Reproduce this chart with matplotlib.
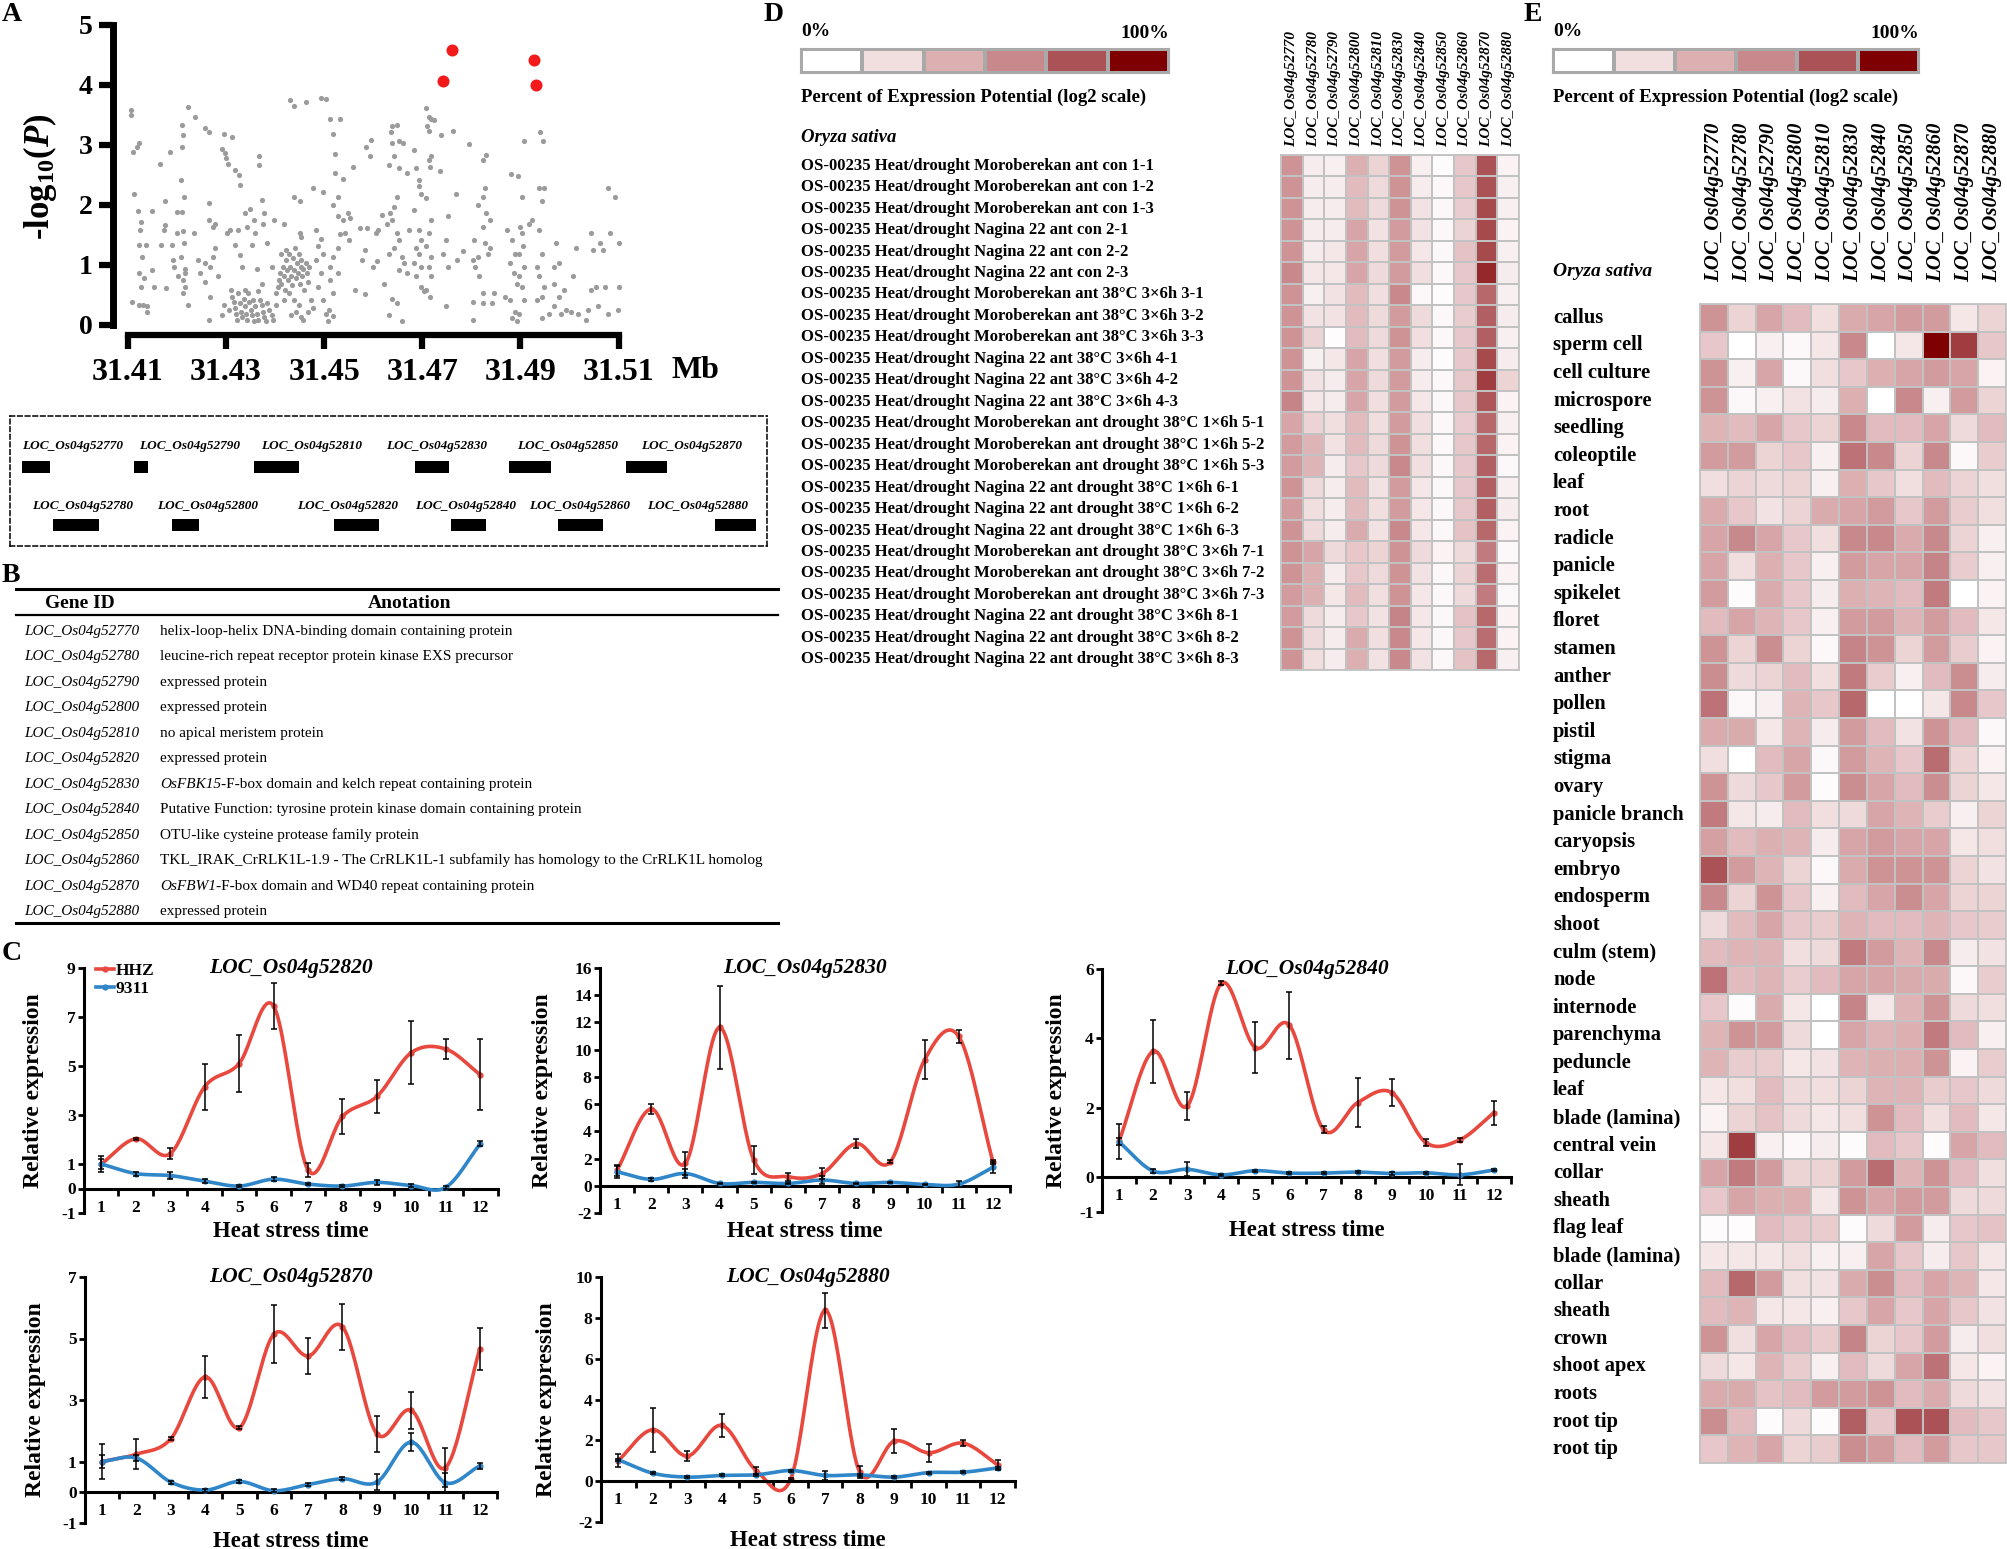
import numpy as np
import matplotlib
matplotlib.use('Agg')
import matplotlib.pyplot as plt
from matplotlib.colors import LinearSegmentedColormap, ListedColormap
from matplotlib.patches import ConnectionPatch
from matplotlib.lines import Line2D
from matplotlib import transforms

plt.rcParams['font.family'] = ['Liberation Serif', 'DejaVu Serif']
plt.rcParams['font.weight'] = 'bold'
plt.rcParams['axes.labelweight'] = 'bold'
plt.rcParams['axes.unicode_minus'] = False
plt.rcParams['mathtext.fontset'] = 'custom'
plt.rcParams['mathtext.rm'] = 'Liberation Serif:bold'
plt.rcParams['mathtext.it'] = 'Liberation Serif:italic:bold'
plt.rcParams['mathtext.bf'] = 'Liberation Serif:bold'

# ---------------- data ----------------
# panel A: GWAS points (Mb, -log10 P)
snp_pos = [
    31.4106, 31.4106, 31.4123, 31.4118, 31.4110, 31.4113, 31.4121, 31.4150, 31.4128, 31.4125,
    31.4123, 31.4138, 31.4130, 31.4150, 31.4123, 31.4133, 31.4128, 31.4154, 31.4108, 31.4123,
    31.4131, 31.4140, 31.4140, 31.4165, 31.4176, 31.4175, 31.4173, 31.4168, 31.4178, 31.4186,
    31.4190, 31.4193, 31.4195, 31.4200, 31.4200, 31.4203, 31.4208, 31.4210, 31.4213, 31.4211,
    31.4215, 31.4210, 31.4213, 31.4215, 31.4208, 31.4216, 31.4216, 31.4213, 31.4216, 31.4213,
    31.4223, 31.4223, 31.4238, 31.4236, 31.4243, 31.4248, 31.4258, 31.4266, 31.4258, 31.4258,
    31.4266, 31.4266, 31.4273, 31.4278, 31.4273, 31.4268, 31.4278, 31.4268, 31.4266, 31.4283,
    31.4296, 31.4293, 31.4298, 31.4301, 31.4304, 31.4296, 31.4293,
    31.4313, 31.4318, 31.4326, 31.4328, 31.4303, 31.4308, 31.4318, 31.4324, 31.4328, 31.4333,
    31.4338, 31.4343, 31.4350, 31.4353, 31.4358, 31.4360, 31.4368, 31.4368, 31.4373, 31.4375,
    31.4378, 31.4363, 31.4373, 31.4366, 31.4398, 31.4383, 31.4393,
    31.4310, 31.4313, 31.4316, 31.4318, 31.4321, 31.4325, 31.4328, 31.4330, 31.4333, 31.4336,
    31.4338, 31.4341, 31.4343, 31.4346, 31.4348, 31.4351, 31.4354, 31.4356, 31.4360, 31.4363,
    31.4366, 31.4370, 31.4373, 31.4376, 31.4378, 31.4381, 31.4384, 31.4388, 31.4393, 31.4396,
    31.4403, 31.4306, 31.4323, 31.4358, 31.4338,
    31.4403, 31.4406, 31.4408, 31.4410, 31.4413, 31.4416, 31.4418, 31.4420, 31.4422, 31.4424,
    31.4426, 31.4428, 31.4430, 31.4432, 31.4434, 31.4436, 31.4438, 31.4440, 31.4442, 31.4444,
    31.4446, 31.4448, 31.4450, 31.4452, 31.4454, 31.4456, 31.4458, 31.4460, 31.4463, 31.4466,
    31.4468, 31.4470, 31.4473, 31.4428, 31.4438, 31.4448, 31.4443, 31.4453, 31.4458, 31.4433,
    31.4468, 31.4478, 31.4418, 31.4413, 31.4423,
    31.4430, 31.4438, 31.4463, 31.4438, 31.4450, 31.4478, 31.4498, 31.4418, 31.4450, 31.4453,
    31.4483, 31.4493, 31.4488, 31.4498, 31.4483, 31.4493, 31.4488, 31.4498, 31.4503, 31.4508,
    31.4493, 31.4503, 31.4513, 31.4533, 31.4518, 31.4523, 31.4523, 31.4538, 31.4528, 31.4518,
    31.4528, 31.4538, 31.4548, 31.4553, 31.4543, 31.4533, 31.4528, 31.4518, 31.4513, 31.4528,
    31.4513, 31.4518, 31.4510, 31.4518, 31.4558, 31.4550, 31.4563, 31.4573, 31.4578, 31.4583,
    31.4588, 31.4586, 31.4593, 31.4596, 31.4583, 31.4600,
    31.4606, 31.4610, 31.4608, 31.4623, 31.4618, 31.4628, 31.4634, 31.4636, 31.4638, 31.4648,
    31.4653, 31.4638, 31.4633, 31.4643, 31.4653, 31.4660, 31.4648, 31.4643, 31.4638, 31.4648,
    31.4653, 31.4643, 31.4633, 31.4658, 31.4663, 31.4653, 31.4668, 31.4638, 31.4648, 31.4658,
    31.4633, 31.4668, 31.4673, 31.4683, 31.4688, 31.4693, 31.4693, 31.4698, 31.4683, 31.4693,
    31.4698, 31.4688, 31.4693, 31.4683, 31.4698, 31.4688, 31.4698, 31.4703,
    31.4708, 31.4713, 31.4718, 31.4723, 31.4710, 31.4714, 31.4718, 31.4713, 31.4716, 31.4708,
    31.4718, 31.4713, 31.4708, 31.4718, 31.4713, 31.4718, 31.4708, 31.4716, 31.4736, 31.4738,
    31.4748, 31.4743, 31.4748, 31.4753, 31.4753, 31.4763, 31.4768, 31.4770, 31.4783, 31.4796,
    31.4803, 31.4803, 31.4813, 31.4806, 31.4813, 31.4808, 31.4816, 31.4803, 31.4823, 31.4830,
    31.4828, 31.4823, 31.4823, 31.4830, 31.4838, 31.4828, 31.4833, 31.4838, 31.4823, 31.4823,
    31.4846, 31.4843, 31.4868, 31.4873, 31.4880, 31.4896, 31.4883, 31.4888, 31.4878, 31.4886,
    31.4893, 31.4878, 31.4888, 31.4883, 31.4893,
    31.4903, 31.4908, 31.4900, 31.4903, 31.4898, 31.4906, 31.4908, 31.4898, 31.4903, 31.4908,
    31.4898, 31.4923, 31.4918, 31.4933, 31.4940, 31.4946, 31.4938, 31.4948, 31.4943, 31.4938,
    31.4943, 31.4933, 31.4938, 31.4948, 31.4943, 31.4943, 31.4958, 31.4968, 31.4973, 31.4968,
    31.4978, 31.4968, 31.4978, 31.4983, 31.4988, 31.4993,
    31.5008, 31.5013, 31.5003, 31.5018, 31.5033, 31.5038, 31.5043, 31.5048, 31.5043, 31.5053,
    31.5058, 31.5063, 31.5068, 31.5073, 31.5078, 31.5083, 31.5078, 31.5093, 31.5100, 31.5100,
    31.5098,
]
snp_logp = [
    3.58, 3.50, 3.04, 2.97, 2.89, 2.19, 1.90, 1.90, 1.72, 1.58,
    1.33, 1.33, 1.14, 0.92, 0.86, 0.78, 0.63, 0.64, 0.39, 0.33,
    0.33, 0.32, 0.22, 2.68, 2.06, 1.67, 1.58, 1.33, 0.61, 2.89,
    1.33, 1.08, 0.97, 1.89, 1.53, 0.81, 2.42, 3.33, 3.17, 2.97,
    2.13, 1.89, 1.56, 1.36, 1.14, 0.94, 0.86, 0.75, 0.64, 0.53,
    0.33, 3.63, 3.47, 1.53, 1.08, 0.86, 3.28, 3.21, 1.03, 0.72,
    2.03, 1.75, 1.64, 1.68, 1.14, 0.97, 1.28, 0.47, 0.08, 0.81,
    3.19, 2.94, 2.86, 2.79, 2.69, 0.33, 0.17,
    3.14, 2.58, 2.50, 2.33, 1.53, 1.58, 1.33, 1.58, 1.17, 0.97,
    1.86, 1.64, 1.94, 1.33, 1.75, 1.53, 2.81, 2.67, 2.08, 1.69,
    1.86, 0.94, 0.69, 0.56, 1.75, 1.36, 0.97,
    0.58, 0.47, 0.39, 0.28, 0.19, 0.53, 0.36, 0.22, 0.14, 0.44,
    0.31, 0.19, 0.08, 0.53, 0.39, 0.25, 0.17, 0.42, 0.31, 0.19,
    0.08, 0.42, 0.33, 0.22, 0.14, 0.06, 0.36, 0.25, 0.17, 0.08,
    0.33, 0.25, 0.08, 0.06, 0.58,
    0.53, 0.64, 0.75, 0.86, 0.69, 0.97, 0.81, 0.58, 1.08, 0.92,
    0.75, 1.19, 0.97, 0.81, 0.67, 1.11, 0.92, 1.28, 0.78, 1.03,
    0.86, 1.19, 0.69, 0.97, 1.08, 0.81, 0.94, 0.58, 1.03, 0.86,
    0.72, 0.97, 0.42, 0.53, 0.42, 0.33, 0.22, 0.14, 0.08, 0.17,
    0.22, 0.28, 0.42, 1.19, 1.25,
    3.75, 3.65, 3.71, 2.14, 2.06, 2.28, 2.22, 1.69, 1.53, 1.46,
    1.58, 1.44, 1.31, 1.19, 1.08, 0.86, 0.64, 0.42, 0.19, 0.06,
    3.78, 3.76, 3.44, 3.44, 3.19, 2.85, 2.53, 2.44, 2.14, 2.00,
    1.81, 1.75, 1.86, 1.78, 1.53, 1.52, 1.28, 1.14, 0.97, 0.86,
    0.75, 0.53, 0.25, 0.15, 2.64, 1.42, 0.58, 1.61, 1.08, 1.25,
    1.61, 2.97, 2.82, 3.08, 0.52, 0.97,
    1.53, 1.58, 1.06, 0.69, 1.83, 1.68, 1.86, 3.22, 3.31, 3.33,
    3.06, 3.03, 2.67, 2.81, 2.61, 3.03, 2.14, 1.97, 1.75, 1.53,
    1.42, 1.28, 1.19, 1.14, 1.03, 0.92, 0.86, 0.44, 0.36, 0.06,
    0.17, 2.53, 1.58, 2.92, 2.61, 2.42, 2.31, 2.18, 1.92, 1.58,
    1.42, 1.28, 1.18, 1.03, 0.97, 0.81, 0.64, 0.56,
    3.61, 3.47, 3.44, 3.42, 3.31, 3.24, 2.81, 2.75, 2.64, 2.11,
    1.75, 1.53, 1.31, 1.14, 0.97, 0.81, 0.58, 0.47, 2.56, 3.17,
    1.42, 1.19, 0.31, 1.82, 0.97, 3.23, 2.18, 1.08, 1.24, 3.02,
    0.08, 0.39, 2.00, 1.42, 1.14, 0.97, 0.81, 1.08, 2.75, 2.83,
    2.28, 2.13, 1.64, 1.86, 1.75, 1.36, 1.19, 1.28, 0.53, 0.36,
    0.53, 0.36, 0.47, 1.59, 2.52, 2.48, 1.42, 1.19, 1.03, 0.86,
    0.69, 0.42, 0.22, 0.11, 0.06,
    2.13, 3.06, 1.63, 1.53, 1.19, 1.31, 0.97, 0.81, 0.64, 0.42,
    0.19, 1.75, 1.68, 0.42, 3.22, 3.06, 2.29, 2.28, 2.06, 1.58,
    1.19, 0.97, 0.81, 0.64, 0.47, 0.11, 0.19, 0.31, 1.37, 0.97,
    1.03, 0.69, 0.47, 0.19, 0.58, 0.25,
    0.81, 1.28, 0.22, 0.19, 0.08, 0.25, 1.53, 1.25, 0.58, 0.64,
    0.31, 1.36, 1.25, 0.64, 2.28, 1.53, 0.19, 2.14, 1.36, 0.64,
    0.25,
]
top_pos = [31.4743, 31.4760, 31.4928, 31.4931]
top_logp = [4.07, 4.59, 4.41, 4.00]
mb_ticks = [31.41, 31.43, 31.45, 31.47, 31.49, 31.51]

# gene model (kb from left end of zoomed region)
track_row1 = ['LOC_Os04g52770', 'LOC_Os04g52790', 'LOC_Os04g52810',
              'LOC_Os04g52830', 'LOC_Os04g52850', 'LOC_Os04g52870']
row1_start = [0.6, 6.2, 12.2, 20.25, 24.95, 30.8]
row1_end = [2.0, 6.9, 14.45, 21.95, 27.05, 32.85]
row1_label_x = [0.6, 6.45, 12.55, 18.8, 25.35, 31.55]
track_row2 = ['LOC_Os04g52780', 'LOC_Os04g52800', 'LOC_Os04g52820',
              'LOC_Os04g52840', 'LOC_Os04g52860', 'LOC_Os04g52880']
row2_start = [2.15, 8.1, 16.2, 22.05, 27.4, 35.25]
row2_end = [4.45, 9.45, 18.45, 23.8, 29.65, 37.3]
row2_label_x = [1.1, 7.35, 14.35, 20.25, 25.95, 31.85]

# panel B table
table_ids = ['LOC_Os04g527%d0' % i for i in range(7, 10)] + ['LOC_Os04g528%d0' % i for i in range(0, 9)]
table_italic = ['', '', '', '', '', '', 'OsFBK15', '', '', '', 'OsFBW1', '']
table_text = [
    'helix-loop-helix DNA-binding domain containing protein',
    'leucine-rich repeat receptor protein kinase EXS precursor',
    'expressed protein',
    'expressed protein',
    'no apical meristem protein',
    'expressed protein',
    '-F-box domain and kelch repeat containing protein',
    'Putative Function: tyrosine protein kinase domain containing protein',
    'OTU-like cysteine protease family protein',
    'TKL_IRAK_CrRLK1L-1.9 - The CrRLK1L-1 subfamily has homology to the CrRLK1L homolog',
    '-F-box domain and WD40 repeat containing protein',
    'expressed protein',
]

# panel C qRT-PCR
time_points = list(range(1, 13))
qpcr_genes = ['LOC_Os04g52820', 'LOC_Os04g52830', 'LOC_Os04g52840', 'LOC_Os04g52870', 'LOC_Os04g52880']
hhz_mean = [
    [1.0, 2.03, 1.42, 4.15, 5.1, 7.45, 0.75, 2.94, 3.76, 5.55, 5.69, 4.64],
    [1.15, 5.64, 1.64, 11.63, 1.9, 0.66, 0.9, 3.1, 1.77, 9.25, 10.97, 1.77],
    [1.04, 3.63, 2.05, 5.59, 3.73, 4.38, 1.37, 2.15, 2.44, 1.0, 1.08, 1.86],
    [1.0, 1.24, 1.74, 3.75, 2.1, 5.14, 4.43, 5.38, 1.9, 2.67, 0.8, 4.67],
    [1.01, 2.52, 1.23, 2.73, 0.52, 0.11, 8.37, 0.44, 1.96, 1.39, 1.86, 0.8],
]
hhz_sd = [
    [0.33, 0.05, 0.23, 0.95, 1.15, 0.95, 0.3, 0.72, 0.67, 1.3, 0.4, 1.45],
    [0.4, 0.35, 0.85, 3.05, 1.05, 0.3, 0.4, 0.35, 0.1, 1.43, 0.45, 0.15],
    [0.5, 0.9, 0.4, 0.05, 0.74, 0.97, 0.1, 0.7, 0.4, 0.1, 0.05, 0.35],
    [0.58, 0.5, 0.05, 0.69, 0.05, 0.95, 0.58, 0.75, 0.58, 0.6, 0.64, 0.68],
    [0.3, 1.07, 0.25, 0.55, 0.15, 0.05, 0.85, 0.3, 0.6, 0.45, 0.15, 0.25],
]
r9311_mean = [
    [1.0, 0.61, 0.53, 0.3, 0.1, 0.38, 0.18, 0.1, 0.25, 0.12, 0.05, 1.83],
    [1.03, 0.47, 0.9, 0.17, 0.25, 0.17, 0.42, 0.17, 0.25, 0.1, 0.12, 1.35],
    [1.02, 0.18, 0.23, 0.07, 0.19, 0.12, 0.12, 0.15, 0.11, 0.13, 0.07, 0.21],
    [1.0, 1.11, 0.33, 0.07, 0.35, 0.05, 0.25, 0.44, 0.33, 1.63, 0.31, 0.86],
    [1.05, 0.39, 0.2, 0.28, 0.31, 0.52, 0.28, 0.31, 0.2, 0.42, 0.44, 0.65],
]
r9311_sd = [
    [0.2, 0.08, 0.15, 0.08, 0.05, 0.08, 0.05, 0.05, 0.1, 0.05, 0.05, 0.1],
    [0.45, 0.1, 0.3, 0.05, 0.05, 0.05, 0.3, 0.05, 0.05, 0.05, 0.2, 0.4],
    [0.1, 0.05, 0.2, 0.03, 0.03, 0.03, 0.03, 0.03, 0.03, 0.03, 0.3, 0.03],
    [0.2, 0.1, 0.05, 0.05, 0.05, 0.05, 0.05, 0.05, 0.25, 0.3, 0.3, 0.1],
    [0.05, 0.05, 0.05, 0.05, 0.05, 0.05, 0.2, 0.05, 0.05, 0.05, 0.05, 0.05],
]
qpcr_yticks = [[-1, 0, 1, 3, 5, 7, 9], list(range(-2, 17, 2)), [-1, 0, 2, 4, 6],
               [-1, 0, 1, 3, 5, 7], list(range(-2, 11, 2))]

# panels D/E: percent of expression potential (0-1)
heat_genes = ['LOC_Os04g52770', 'LOC_Os04g52780', 'LOC_Os04g52790', 'LOC_Os04g52800',
              'LOC_Os04g52810', 'LOC_Os04g52830', 'LOC_Os04g52840', 'LOC_Os04g52850',
              'LOC_Os04g52860', 'LOC_Os04g52870', 'LOC_Os04g52880']
d_conditions = ['Moroberekan ant con 1', 'Nagina 22 ant con 2',
                'Moroberekan ant 38°C 3×6h 3', 'Nagina 22 ant 38°C 3×6h 4',
                'Moroberekan ant drought 38°C 1×6h 5', 'Nagina 22 ant drought 38°C 1×6h 6',
                'Moroberekan ant drought 38°C 3×6h 7', 'Nagina 22 ant drought 38°C 3×6h 8']
d_samples = ['OS-00235 Heat/drought %s-%d' % (c, r) for c in d_conditions for r in (1, 2, 3)]
d_values = [
    [0.55, 0.12, 0.10, 0.40, 0.25, 0.55, 0.10, 0.03, 0.30, 0.80, 0.08],
    [0.55, 0.12, 0.12, 0.35, 0.22, 0.55, 0.12, 0.05, 0.30, 0.80, 0.10],
    [0.55, 0.12, 0.12, 0.35, 0.22, 0.55, 0.18, 0.05, 0.28, 0.82, 0.10],
    [0.55, 0.12, 0.12, 0.45, 0.18, 0.50, 0.18, 0.05, 0.25, 0.82, 0.08],
    [0.55, 0.12, 0.15, 0.45, 0.20, 0.50, 0.15, 0.05, 0.32, 0.82, 0.10],
    [0.60, 0.15, 0.15, 0.45, 0.22, 0.50, 0.20, 0.05, 0.30, 0.90, 0.12],
    [0.55, 0.10, 0.18, 0.35, 0.20, 0.60, 0.05, 0.03, 0.30, 0.72, 0.10],
    [0.55, 0.18, 0.18, 0.35, 0.22, 0.50, 0.22, 0.05, 0.28, 0.75, 0.12],
    [0.55, 0.25, 0.02, 0.35, 0.22, 0.55, 0.20, 0.05, 0.30, 0.75, 0.10],
    [0.55, 0.10, 0.15, 0.45, 0.20, 0.50, 0.12, 0.03, 0.30, 0.82, 0.12],
    [0.55, 0.18, 0.12, 0.45, 0.22, 0.50, 0.12, 0.05, 0.30, 0.85, 0.25],
    [0.62, 0.15, 0.12, 0.45, 0.20, 0.50, 0.15, 0.05, 0.30, 0.78, 0.08],
    [0.45, 0.25, 0.20, 0.35, 0.20, 0.50, 0.20, 0.05, 0.28, 0.72, 0.10],
    [0.50, 0.38, 0.18, 0.35, 0.22, 0.55, 0.20, 0.05, 0.30, 0.72, 0.08],
    [0.50, 0.38, 0.12, 0.30, 0.22, 0.60, 0.20, 0.05, 0.30, 0.75, 0.05],
    [0.55, 0.22, 0.12, 0.35, 0.18, 0.50, 0.15, 0.05, 0.30, 0.75, 0.10],
    [0.50, 0.20, 0.12, 0.35, 0.20, 0.50, 0.15, 0.05, 0.30, 0.75, 0.12],
    [0.55, 0.22, 0.12, 0.42, 0.18, 0.60, 0.15, 0.05, 0.32, 0.72, 0.08],
    [0.55, 0.45, 0.22, 0.30, 0.25, 0.55, 0.22, 0.08, 0.22, 0.65, 0.05],
    [0.55, 0.40, 0.12, 0.30, 0.22, 0.55, 0.18, 0.05, 0.25, 0.70, 0.08],
    [0.50, 0.40, 0.15, 0.35, 0.20, 0.55, 0.15, 0.05, 0.22, 0.65, 0.05],
    [0.50, 0.22, 0.12, 0.30, 0.18, 0.62, 0.15, 0.05, 0.32, 0.72, 0.08],
    [0.55, 0.22, 0.12, 0.42, 0.20, 0.60, 0.15, 0.05, 0.30, 0.70, 0.08],
    [0.55, 0.20, 0.12, 0.40, 0.18, 0.60, 0.18, 0.05, 0.32, 0.72, 0.10],
]
e_tissues = ['callus', 'sperm cell', 'cell culture', 'microspore', 'seedling', 'coleoptile',
             'leaf', 'root', 'radicle', 'panicle', 'spikelet', 'floret', 'stamen', 'anther',
             'pollen', 'pistil', 'stigma', 'ovary', 'panicle branch', 'caryopsis', 'embryo',
             'endosperm', 'shoot', 'culm (stem)', 'node', 'internode', 'parenchyma', 'peduncle',
             'leaf', 'blade (lamina)', 'central vein', 'collar', 'sheath', 'flag leaf',
             'blade (lamina)', 'collar', 'sheath', 'crown', 'shoot apex', 'roots', 'root tip',
             'root tip']
e_values = [
    [0.55, 0.25, 0.45, 0.35, 0.20, 0.42, 0.45, 0.50, 0.50, 0.15, 0.25],
    [0.30, 0.00, 0.10, 0.05, 0.15, 0.60, 0.00, 0.15, 1.00, 0.85, 0.30],
    [0.55, 0.10, 0.45, 0.05, 0.20, 0.30, 0.40, 0.45, 0.50, 0.45, 0.08],
    [0.55, 0.05, 0.10, 0.18, 0.12, 0.40, 0.00, 0.60, 0.10, 0.50, 0.25],
    [0.38, 0.35, 0.45, 0.30, 0.25, 0.60, 0.35, 0.35, 0.45, 0.22, 0.35],
    [0.50, 0.50, 0.25, 0.30, 0.10, 0.68, 0.60, 0.25, 0.60, 0.05, 0.28],
    [0.20, 0.25, 0.22, 0.25, 0.10, 0.40, 0.30, 0.20, 0.35, 0.25, 0.20],
    [0.42, 0.30, 0.18, 0.25, 0.42, 0.45, 0.50, 0.30, 0.50, 0.28, 0.20],
    [0.45, 0.60, 0.45, 0.30, 0.20, 0.60, 0.60, 0.42, 0.60, 0.25, 0.10],
    [0.45, 0.20, 0.40, 0.30, 0.10, 0.50, 0.45, 0.45, 0.62, 0.28, 0.10],
    [0.50, 0.03, 0.42, 0.30, 0.12, 0.40, 0.38, 0.35, 0.65, 0.00, 0.08],
    [0.35, 0.45, 0.38, 0.30, 0.10, 0.50, 0.50, 0.38, 0.50, 0.35, 0.15],
    [0.55, 0.25, 0.58, 0.25, 0.05, 0.62, 0.55, 0.25, 0.50, 0.28, 0.08],
    [0.58, 0.22, 0.25, 0.35, 0.20, 0.65, 0.28, 0.10, 0.35, 0.58, 0.12],
    [0.68, 0.05, 0.10, 0.38, 0.30, 0.72, 0.00, 0.00, 0.15, 0.60, 0.30],
    [0.42, 0.42, 0.15, 0.38, 0.12, 0.50, 0.35, 0.18, 0.55, 0.35, 0.05],
    [0.20, 0.00, 0.35, 0.45, 0.05, 0.50, 0.38, 0.30, 0.70, 0.25, 0.08],
    [0.55, 0.22, 0.30, 0.50, 0.03, 0.58, 0.45, 0.35, 0.58, 0.25, 0.15],
    [0.65, 0.15, 0.12, 0.35, 0.20, 0.22, 0.45, 0.38, 0.28, 0.10, 0.25],
    [0.48, 0.35, 0.40, 0.38, 0.12, 0.45, 0.50, 0.45, 0.45, 0.15, 0.20],
    [0.80, 0.50, 0.38, 0.25, 0.05, 0.42, 0.55, 0.55, 0.55, 0.25, 0.18],
    [0.60, 0.25, 0.55, 0.30, 0.10, 0.35, 0.45, 0.58, 0.45, 0.25, 0.25],
    [0.22, 0.35, 0.45, 0.30, 0.28, 0.38, 0.35, 0.35, 0.38, 0.30, 0.28],
    [0.35, 0.38, 0.38, 0.20, 0.22, 0.65, 0.50, 0.38, 0.60, 0.12, 0.18],
    [0.68, 0.35, 0.38, 0.28, 0.35, 0.45, 0.45, 0.42, 0.42, 0.05, 0.28],
    [0.30, 0.03, 0.42, 0.15, 0.00, 0.62, 0.15, 0.38, 0.55, 0.22, 0.20],
    [0.38, 0.55, 0.50, 0.22, 0.00, 0.45, 0.38, 0.40, 0.65, 0.35, 0.10],
    [0.38, 0.28, 0.28, 0.15, 0.18, 0.38, 0.40, 0.40, 0.55, 0.08, 0.28],
    [0.15, 0.20, 0.35, 0.22, 0.20, 0.25, 0.38, 0.38, 0.28, 0.30, 0.22],
    [0.08, 0.25, 0.32, 0.22, 0.15, 0.20, 0.55, 0.35, 0.20, 0.35, 0.15],
    [0.15, 0.85, 0.10, 0.05, 0.12, 0.03, 0.35, 0.30, 0.03, 0.45, 0.35],
    [0.45, 0.65, 0.50, 0.25, 0.25, 0.50, 0.70, 0.38, 0.55, 0.35, 0.20],
    [0.30, 0.45, 0.40, 0.40, 0.15, 0.55, 0.45, 0.50, 0.50, 0.22, 0.22],
    [0.03, 0.02, 0.35, 0.30, 0.28, 0.03, 0.22, 0.50, 0.12, 0.30, 0.32],
    [0.15, 0.15, 0.15, 0.20, 0.10, 0.10, 0.45, 0.30, 0.12, 0.30, 0.15],
    [0.35, 0.72, 0.50, 0.20, 0.18, 0.42, 0.58, 0.35, 0.45, 0.38, 0.15],
    [0.35, 0.38, 0.15, 0.15, 0.10, 0.30, 0.45, 0.30, 0.45, 0.30, 0.18],
    [0.55, 0.20, 0.45, 0.35, 0.28, 0.62, 0.25, 0.30, 0.50, 0.12, 0.20],
    [0.22, 0.15, 0.38, 0.28, 0.10, 0.35, 0.22, 0.45, 0.68, 0.15, 0.08],
    [0.42, 0.42, 0.32, 0.35, 0.50, 0.50, 0.55, 0.35, 0.42, 0.22, 0.18],
    [0.58, 0.35, 0.03, 0.22, 0.03, 0.75, 0.30, 0.80, 0.80, 0.35, 0.30],
    [0.30, 0.38, 0.45, 0.25, 0.28, 0.58, 0.50, 0.35, 0.50, 0.30, 0.30],
]
potential_colors = ['#ffffff', '#f1dfe0', '#dcafb1', '#c8898c', '#ab5256', '#7f0000']

# ---------------- figure ----------------
W, H = 2008, 1549
fig = plt.figure(figsize=(W / 100, H / 100), dpi=100)


def px_axes(x0, y0, x1, y1):
    ax = fig.add_axes([x0 / W, 1 - y1 / H, (x1 - x0) / W, (y1 - y0) / H])
    ax.set_facecolor('none')
    return ax


canvas = px_axes(0, 0, W, H)
canvas.set_xlim(0, W)
canvas.set_ylim(H, 0)
canvas.axis('off')

for letter, (lx, ly) in zip('ABCDE', [(2, 2), (2, 563), (2, 941), (764, 2), (1524, 2)]):
    canvas.text(lx, ly, letter, fontsize=20, ha='left', va='top')

# ---- A: Manhattan ----
axA = px_axes(113.5, 25, 628.4, 329.8)
axA.scatter(snp_pos, snp_logp, s=14, color='#9b9b9b', linewidths=0)
axA.scatter(top_pos, top_logp, s=75, color='#f21a1a', linewidths=0, zorder=3)
axA.set_xlim(31.4071, 31.512)
axA.set_ylim(-0.08, 5.0)
axA.spines['top'].set_visible(False)
axA.spines['right'].set_visible(False)
axA.spines['left'].set_linewidth(5)
axA.spines['left'].set_bounds(0, 5)
axA.spines['bottom'].set_linewidth(4.5)
axA.spines['bottom'].set_bounds(31.41, 31.51)
axA.spines['bottom'].set_position(('outward', 4))
axA.set_xticks(mb_ticks)
axA.set_xticklabels(['%.2f' % v for v in mb_ticks])
axA.set_yticks(range(0, 6))
axA.tick_params(axis='x', length=10, width=4.5, labelsize=23, pad=6)
axA.tick_params(axis='y', length=10, width=4.5, labelsize=20, pad=5)
canvas.text(672, 370, 'Mb', fontsize=23, ha='left', va='center')
canvas.text(40, 177, r'-log$_{10}$($\mathit{P}$)', fontsize=25, rotation=90, ha='center', va='center')

# zoomed gene track
axT = px_axes(10, 416, 767, 546)
axT.set_xlim(0, 37.85)
axT.set_ylim(0, 130)
axT.set_xticks([])
axT.set_yticks([])
for s in axT.spines.values():
    s.set_linestyle((0, (3, 2)))
    s.set_linewidth(1.1)
axT.bar(row1_start, 12, width=np.subtract(row1_end, row1_start), bottom=73, align='edge', color='black')
axT.bar(row2_start, 12, width=np.subtract(row2_end, row2_start), bottom=15.5, align='edge', color='black')
for name, lx in zip(track_row1, row1_label_x):
    axT.text(lx, 100, name, fontsize=9.5, style='italic', ha='left', va='center')
for name, lx in zip(track_row2, row2_label_x):
    axT.text(lx, 40, name, fontsize=9.5, style='italic', ha='left', va='center')
for xa, xb in [(31.4579, 0), (31.4987, 37.85)]:
    con = ConnectionPatch(xyA=(xa, -0.9), coordsA='data', axesA=axA, xyB=(xb, 130), coordsB='data',
                          axesB=axT, linestyle=(0, (3, 2)), linewidth=1.1, color='black')
    fig.add_artist(con)

# ---- B: table ----
canvas.plot([16, 778], [589, 589], color='black', lw=2.2)
canvas.plot([16, 778], [615, 615], color='black', lw=1.6)
canvas.plot([16, 778], [923, 923], color='black', lw=2.2)
canvas.text(80, 603, 'Gene ID', fontsize=14, ha='center', va='center')
canvas.text(410, 603, 'Anotation', fontsize=14, ha='center', va='center')
for i, (gid, it, txt) in enumerate(zip(table_ids, table_italic, table_text)):
    y = 631 + 25.5 * i
    canvas.text(24, y, gid, fontsize=11, style='italic', fontweight='normal', ha='left', va='center')
    if it:
        t1 = canvas.text(160, y, it, fontsize=11, style='italic', fontweight='normal', ha='left', va='center')
        canvas.annotate(txt, xy=(1, 0), xycoords=t1, fontsize=11, fontweight='normal', ha='left', va='bottom')
    else:
        canvas.text(160, y, txt, fontsize=11, fontweight='normal', ha='left', va='center')


# ---- C: expression curves ----
def smooth(x, y, n=24):
    x = np.asarray(x, float)
    y = np.asarray(y, float)
    px = np.concatenate([[2 * x[0] - x[1]], x, [2 * x[-1] - x[-2]]])
    py = np.concatenate([[2 * y[0] - y[1]], y, [2 * y[-1] - y[-2]]])
    t = np.linspace(0, 1, n, endpoint=False)
    xs, ys = [], []
    for i in range(1, len(px) - 2):
        for arr, out in ((px, xs), (py, ys)):
            p0, p1, p2, p3 = arr[i - 1:i + 3]
            out.extend(0.5 * (2 * p1 + (-p0 + p2) * t + (2 * p0 - 5 * p1 + 4 * p2 - p3) * t ** 2
                              + (-p0 + 3 * p1 - 3 * p2 + p3) * t ** 3))
    xs.append(x[-1])
    ys.append(y[-1])
    return xs, ys


RED = '#e8483d'
BLUE = '#2f86c9'
c_boxes = [(84, 968, 497.6, 1213), (600, 968, 1010, 1213), (1102, 969, 1511, 1212),
           (85, 1277, 497, 1523), (601, 1277, 1015, 1522)]
ylabel_dx = [40, 47, 35, 39, 44]
for k in range(5):
    x0, y0, x1, y1 = c_boxes[k]
    ax = px_axes(x0, y0, x1, y1)
    yt = qpcr_yticks[k]
    ax.set_xlim(0.5, 12.5)
    ax.set_ylim(yt[0], yt[-1])
    sx, sy = smooth(time_points, hhz_mean[k])
    ax.plot(sx, sy, color=RED, lw=2.6, zorder=2, solid_capstyle='round')
    ax.plot(time_points, hhz_mean[k], 'o', color=RED, ms=3.5, zorder=2)
    sx, sy = smooth(time_points, r9311_mean[k])
    ax.plot(sx, sy, color=BLUE, lw=2.6, zorder=3, solid_capstyle='round')
    ax.plot(time_points, r9311_mean[k], 'o', color=BLUE, ms=3.5, zorder=3)
    ax.errorbar(time_points, hhz_mean[k], yerr=hhz_sd[k], fmt='none', ecolor='black', elinewidth=1.1,
                capsize=2, capthick=1.1, zorder=4)
    ax.errorbar(time_points, r9311_mean[k], yerr=r9311_sd[k], fmt='none', ecolor='black', elinewidth=1.1,
                capsize=2, capthick=1.1, zorder=4)
    ax.spines['top'].set_visible(False)
    ax.spines['right'].set_visible(False)
    ax.spines['bottom'].set_position(('data', 0))
    ax.spines['left'].set_linewidth(2.2)
    ax.spines['bottom'].set_linewidth(2.2)
    ax.set_xticks(time_points)
    ax.set_xticks(np.arange(1.5, 13, 1), minor=True)
    ax.set_yticks(yt)
    ax.tick_params(axis='x', which='major', length=0, labelsize=12.5, pad=8)
    ax.tick_params(axis='x', which='minor', length=5, width=2)
    ax.tick_params(axis='y', length=4, width=2, labelsize=12.5, pad=2)
    ax.set_ylabel('Relative expression', fontsize=17, fontweight='bold')
    ax.yaxis.set_label_coords(-ylabel_dx[k] / (x1 - x0), 0.5)
    ax.set_xlabel('Heat stress time', fontsize=16.5, fontweight='bold')
    ax.xaxis.set_label_coords(0.5, -8 / (y1 - y0))
    ax.text(0.5, 1.0, qpcr_genes[k], transform=ax.transAxes, fontsize=15.5, style='italic',
            ha='center', va='center')
    if k == 0:
        handles = [Line2D([], [], color=RED, lw=2.6, marker='o', ms=3.5),
                   Line2D([], [], color=BLUE, lw=2.6, marker='o', ms=3.5)]
        ax.legend(handles, ['HHZ', '9311'], loc='upper left', bbox_to_anchor=(0.03, 1.02), frameon=False,
                  prop={'weight': 'bold', 'size': 12.5}, handlelength=1.0, handletextpad=0.1,
                  labelspacing=0.1, borderaxespad=0, borderpad=0)

# ---- D / E heatmaps ----
cmap = LinearSegmentedColormap.from_list('pep', list(zip(np.linspace(0, 1, 6), potential_colors)))
GRID = '#c2c2c2'


def potential_bar(x0, x1):
    ax = px_axes(x0, 49, x1, 73)
    ax.pcolormesh(np.arange(6).reshape(1, 6), cmap=ListedColormap(potential_colors),
                  edgecolors='#a9a9a9', linewidth=1.5)
    ax.set_xticks([])
    ax.set_yticks([])
    for s in ax.spines.values():
        s.set_color('#a9a9a9')
        s.set_linewidth(1.5)
    canvas.text(x0, 31, '0%', fontsize=14, ha='left', va='center')
    canvas.text(x1, 33, '100%', fontsize=14, ha='right', va='center')
    canvas.text(x0, 97, 'Percent of Expression Potential (log2 scale)', fontsize=13.5, ha='left', va='center')


def heatmap(box, values, rows, label_x, col_fs, row_fs, col_pad):
    x0, y0, x1, y1 = box
    ax = px_axes(x0, y0, x1, y1)
    arr = np.array(values)
    ax.pcolormesh(arr, cmap=cmap, vmin=0, vmax=1, edgecolors=GRID, linewidth=1.3)
    ax.set_xlim(0, arr.shape[1])
    ax.set_ylim(arr.shape[0], 0)
    ax.xaxis.tick_top()
    ax.set_xticks(np.arange(arr.shape[1]) + 0.5)
    ax.set_xticklabels(heat_genes, rotation=90, fontsize=col_fs, style='italic')
    ax.tick_params(axis='x', length=0, pad=col_pad)
    ax.set_yticks([])
    for s in ax.spines.values():
        s.set_color(GRID)
        s.set_linewidth(1.3)
    tr = transforms.blended_transform_factory(canvas.transData, ax.transData)
    for i, name in enumerate(rows):
        canvas.text(label_x, i + 0.5, name, transform=tr, fontsize=row_fs, ha='left', va='center')
    return ax


potential_bar(801, 1169)
canvas.text(801, 137, 'Oryza sativa', fontsize=13.5, style='italic', ha='left', va='center')
heatmap((1281, 155, 1519, 670), d_values, d_samples, 801, 11, 12, 6)

potential_bar(1553, 1919)
canvas.text(1553, 271, 'Oryza sativa', fontsize=14, style='italic', ha='left', va='center')
heatmap((1700, 304, 2006, 1463), e_values, e_tissues, 1553, 15, 14.8, 16)

fig.savefig('out.png', dpi=100)
